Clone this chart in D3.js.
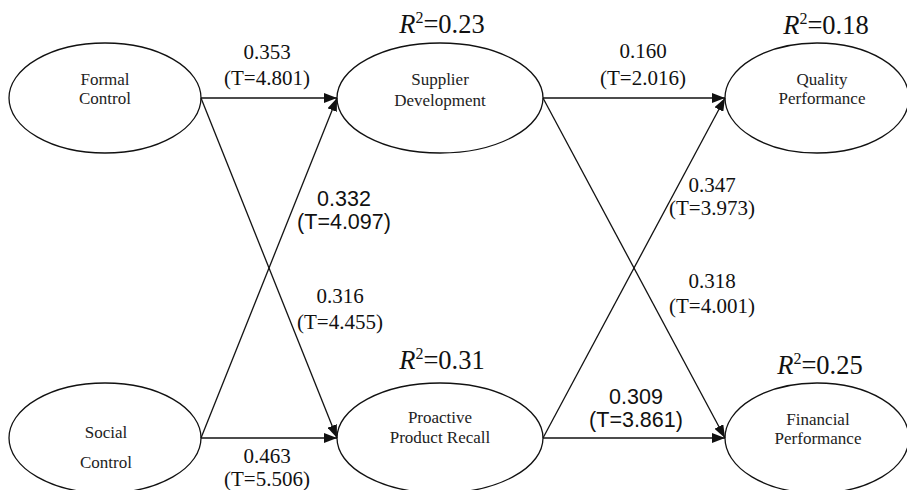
<!DOCTYPE html>
<html><head><meta charset="utf-8">
<script src="https://cdn.jsdelivr.net/npm/d3@7"></script>
<style>body{margin:0;background:#fff}svg{display:block}
.sf{font-family:"Liberation Serif","Times New Roman",Times,serif}
.ss{font-family:"Liberation Sans",Arial,Helvetica,sans-serif}
</style>
</head><body>
<svg id="c" width="907" height="490"></svg>
<script>
// ---- data ----
const nodeIds = ["FC","SC","SD","PR","QP","FP"];
const nodeLines = [["Formal","Control"],["Social","Control"],["Supplier","Development"],["Proactive","Product Recall"],["Quality","Performance"],["Financial","Performance"]];
const nodeCol = [0,0,1,1,2,2];
const nodeRow = [0,1,0,1,0,1];
const r2Nodes = ["SD","QP","PR","FP"];
const r2Values = ["0.23","0.18","0.31","0.25"];
const pathFrom = ["FC","FC","SC","SC","SD","SD","PR","PR"];
const pathTo   = ["SD","PR","SD","PR","QP","FP","QP","FP"];
const pathCoef = ["0.353","0.316","0.332","0.463","0.160","0.318","0.347","0.309"];
const pathT    = ["4.801","4.455","4.097","5.506","2.016","4.001","3.973","3.861"];

// ---- layout (positions / styles) ----
const x = d3.scaleOrdinal().domain([0,1,2]).range([105,440,817]);
const y = d3.scaleOrdinal().domain([0,1]).range([98,438]);
const rxByCol = [96,103,92], ry = 55;
const nodeTextBase = {FC:[85,104],SC:[438,468],SD:[85,106],PR:[423,443],QP:[85,104],FP:[425,444]};
const nodeTextX = {FC:105,SC:106,SD:440,PR:440,QP:822,FP:818};
const r2Pos = {SD:[442,33],QP:[826,34],PR:[442,369],FP:[820,374]};
// label anchor: [x, baseline1, baseline2, sans?]
const labelPos = [[267,59,85,0],[344,206,229,1],[340,303,329,0],[267,463,486,0],[643,58,85,0],[712,288,313,0],[712,192,215,0],[636,404,427,1]];

const svg = d3.select("#c");

svg.append("defs").append("marker")
  .attr("id","arr").attr("viewBox","0 0 13 10").attr("refX",13).attr("refY",5)
  .attr("markerWidth",13).attr("markerHeight",10).attr("markerUnits","userSpaceOnUse")
  .attr("orient","auto")
  .append("path").attr("d","M0,0L13,5L0,10Z").attr("fill","#111");

const nodes = nodeIds.map((id,i)=>({id, lines:nodeLines[i], cx:x(nodeCol[i]), cy:y(nodeRow[i]), rx:rxByCol[nodeCol[i]]}));
const byId = Object.fromEntries(nodes.map(n=>[n.id,n]));

// edges
const labelOrder = {"FC-SD":0,"SC-SD":1,"FC-PR":2,"SC-PR":3,"SD-QP":4,"SD-FP":5,"PR-QP":6,"PR-FP":7};
const edges = pathFrom.map((f,i)=>({s:byId[f], t:byId[pathTo[i]], coef:pathCoef[i], T:pathT[i], lp:labelPos[labelOrder[f+"-"+pathTo[i]]]}));
svg.append("g").selectAll("line").data(edges).join("line")
  .attr("x1",d=>d.s.cx+d.s.rx).attr("y1",d=>d.s.cy)
  .attr("x2",d=>d.t.cx-d.t.rx).attr("y2",d=>d.t.cy)
  .attr("stroke","#111").attr("stroke-width",1.3).attr("marker-end","url(#arr)");

// ellipses
const ng = svg.append("g").selectAll("g").data(nodes).join("g");
ng.append("ellipse").attr("cx",d=>d.cx).attr("cy",d=>d.cy).attr("rx",d=>d.rx).attr("ry",ry)
  .attr("fill","none").attr("stroke","#111").attr("stroke-width",1.3);
ng.each(function(d){
  const g = d3.select(this);
  d.lines.forEach((t,k)=>{
    g.append("text").attr("class","sf").attr("x",nodeTextX[d.id]).attr("y",nodeTextBase[d.id][k])
      .attr("text-anchor","middle").style("font-size","17px")
      .attr("fill","#222").text(t);
  });
});

// edge labels
const lg = svg.append("g").selectAll("g").data(edges).join("g");
lg.each(function(d){
  const g = d3.select(this);
  const cls = d.lp[3] ? "ss" : "sf";
  const fs = d.lp[3] ? "21.5px" : "21px";
  g.append("text").attr("class",cls).attr("x",d.lp[0]).attr("y",d.lp[1]).attr("text-anchor","middle")
    .style("font-size",fs).attr("fill","#111").text(d.coef);
  g.append("text").attr("class",cls).attr("x",d.lp[0]).attr("y",d.lp[2]).attr("text-anchor","middle")
    .style("font-size",fs).attr("fill","#111").text("(T=" + d.T + ")");
});

// R2 labels
r2Nodes.forEach((id,i)=>{
  const p = r2Pos[id];
  const t = svg.append("text").attr("class","sf").attr("x",p[0]).attr("y",p[1]).attr("text-anchor","middle")
    .style("font-size","26.5px").attr("fill","#111");
  t.append("tspan").attr("font-style","italic").text("R");
  t.append("tspan").style("font-size","16px").attr("dy",-10).text("2");
  t.append("tspan").attr("dy",10).text("=" + r2Values[i]);
});
</script>
</body></html>
